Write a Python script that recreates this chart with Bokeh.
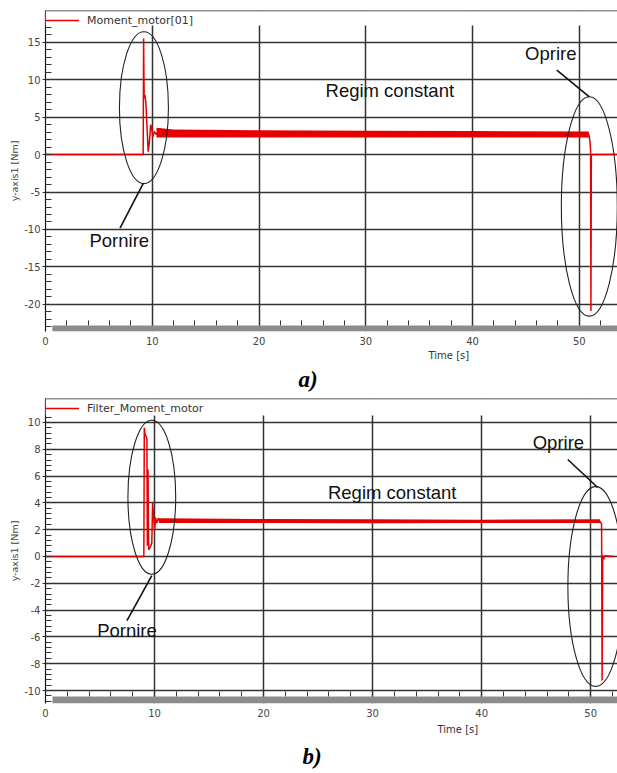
from bokeh.plotting import figure
from bokeh.models import (Range1d, LinearAxis, SingleIntervalTicker, BoxAnnotation, Span,
                          Legend, LegendItem, Title, Grid, CustomJSTickFormatter, Label)
from bokeh.layouts import column
from bokeh.embed import file_html
from bokeh.resources import INLINE

# ---------------- data: panel a) Moment_motor[01] ----------------
ta = [0.0, 9.15, 9.19, 9.24, 9.30, 9.40, 9.50, 9.62, 9.72, 9.85, 9.95, 10.05, 10.20, 10.35, 10.50,
      20.0, 30.0, 40.0, 50.90, 51.00, 51.06, 51.09, 51.13, 53.6]
ya = [0.0, 0.0, 15.5, 7.5, 8.0, 7.0, 4.0, 0.4, 1.5, 4.0, 3.5, 2.3, 3.1, 2.7, 2.9,
      2.75, 2.7, 2.7, 2.7, 1.8, 0.5, -20.9, 0.0, 0.0]
band_a_t = [10.4, 12.0, 20.0, 30.0, 40.0, 50.9]
band_a_hi = [3.6, 3.35, 3.25, 3.2, 3.15, 3.1]
band_a_lo = [2.3, 2.3, 2.3, 2.3, 2.3, 2.3]

# ---------------- data: panel b) Filter_Moment_motor ----------------
tb = [0.0, 9.02, 9.06, 9.12, 9.20, 9.30, 9.34, 9.40, 9.46, 9.60, 9.75, 9.82, 9.90, 10.0, 10.1,
      10.2, 10.35, 10.5, 10.7, 20.0, 30.0, 40.0, 50.85, 51.00, 51.05, 51.10, 51.20, 51.30, 52.15]
yb = [0.0, 0.0, 9.6, 9.2, 9.0, 8.8, 0.8, 6.5, 0.5, 0.7, 1.0, 4.0, 3.2, 2.0, 2.9,
      2.5, 2.85, 2.6, 2.75, 2.65, 2.6, 2.6, 2.65, 2.4, -9.25, 0.1, -0.2, 0.05, 0.0]
band_b_t = [10.4, 20.0, 30.0, 40.0, 50.85]
band_b_hi = [2.85, 2.8, 2.78, 2.75, 2.78]
band_b_lo = [2.5, 2.5, 2.48, 2.5, 2.5]

# annotations (ellipses: x, y, width, height in data units)
ell_a = dict(x=[9.22, 50.94], y=[6.27, -6.93], w=[4.59, 5.24], h=[20.3, 29.3])
ell_b = dict(x=[9.75, 50.46], y=[4.42, -2.24], w=[4.38, 5.10], h=[11.5, 14.93])
lead_a = dict(xs=[[9.16, 6.98], [47.9, 50.94]], ys=[[-3.85, -9.82], [11.28, 7.7]])
lead_b = dict(xs=[[9.75, 7.47], [47.9, 50.64]], ys=[[-1.42, -4.78], [7.24, 5.15]])
notes_text = ["Pornire", "Oprire", "Regim constant"]
notes_a = dict(x=[6.91, 47.33, 32.25], y=[-11.42, 13.47, 8.63])
notes_b = dict(x=[7.47, 47.04, 31.8], y=[-5.52, 8.51, 4.78])

RED = "#e60000"
GRID = "#333333"


def panel(t, y, bt, bhi, blo, label, xr, yr, interval, bar_top, mask_bottom,
          ell, lead, notes, time_off, time_gap, cap, cap_off, cap_gap,
          height, mb_top, mb_bottom, mb_left):
    p = figure(width=617, height=height, x_range=Range1d(*xr), y_range=Range1d(*yr),
               output_backend="svg", toolbar_location=None,
               x_axis_location=None, y_axis_location=None,
               min_border_left=mb_left, min_border_right=0,
               min_border_top=mb_top, min_border_bottom=mb_bottom)
    # drop any default grids
    p.center = [c for c in p.center if not isinstance(c, Grid)]
    p.outline_line_color = None
    p.background_fill_color = "white"
    p.border_fill_color = "white"

    xt = SingleIntervalTicker(interval=10, num_minor_ticks=5)
    yt = SingleIntervalTicker(interval=interval, num_minor_ticks=5)
    fmt = CustomJSTickFormatter(code="return String(tick);")

    p.add_layout(Grid(dimension=0, ticker=xt, grid_line_color=GRID, grid_line_width=1.5))
    p.add_layout(Grid(dimension=1, ticker=yt, grid_line_color=GRID, grid_line_width=1.5))

    yax = LinearAxis(ticker=yt, formatter=fmt, axis_label="y-axis1 [Nm]",
                     axis_line_color="#111111", axis_line_width=1.2,
                     major_tick_in=0, major_tick_out=3, major_tick_line_color="#333",
                     minor_tick_in=6, minor_tick_out=0, minor_tick_line_color="#333",
                     major_label_text_font="DejaVu Sans",
                     major_label_text_font_size="10px", major_label_text_color="#444444",
                     major_label_standoff=2,
                     axis_label_text_font="DejaVu Sans",
                     axis_label_text_font_size="9.5px", axis_label_text_font_style="normal",
                     axis_label_text_color="#444444", axis_label_standoff=1)
    p.add_layout(yax, "left")

    xax = LinearAxis(ticker=xt, formatter=fmt, axis_line_color=None,
                     major_tick_line_color=None,
                     minor_tick_line_color=None, major_tick_in=0, major_tick_out=0,
                     major_label_text_font="DejaVu Sans",
                     major_label_text_font_size="10px", major_label_text_color="#444444",
                     major_label_standoff=1)
    p.add_layout(xax, "below")

    xfix = LinearAxis(ticker=xt, fixed_location=bar_top, axis_line_color=None,
                      major_tick_in=5, major_tick_out=0, minor_tick_in=5, minor_tick_out=0,
                      major_tick_line_color="#333", minor_tick_line_color="#333",
                      major_label_text_alpha=0, major_label_text_font_size="1px")
    p.add_layout(xfix, "below")

    p.add_layout(Title(text="Time [s]", align="left", offset=time_off, standoff=time_gap,
                       text_font="DejaVu Sans", text_font_size="10px",
                       text_font_style="normal", text_color="#333333"), "below")
    p.add_layout(Title(text=cap, align="left", offset=cap_off, standoff=cap_gap,
                       text_font="Liberation Serif", text_font_size="23px",
                       text_font_style="bold italic", text_color="#000000"), "below")

    # data
    p.varea(x=bt, y1=blo, y2=bhi, fill_color=RED, fill_alpha=1)
    r = p.line(t, y, line_color=RED, line_width=1.5)

    # annotation shapes
    p.ellipse(x=ell["x"], y=ell["y"], width=ell["w"], height=ell["h"],
              fill_color=None, line_color="#222222", line_width=1.1)
    p.multi_line(xs=lead["xs"], ys=lead["ys"], line_color="#111111", line_width=1.6)
    for txt, nx, ny in zip(notes_text, notes["x"], notes["y"]):
        p.add_layout(Label(x=nx, y=ny, text=txt, text_font="Liberation Sans",
                           text_font_size="18.5px", text_color="#111111",
                           text_align="center", text_baseline="middle"))

    # decorations: top band mask, legend, top line, bottom bar
    p.add_layout(BoxAnnotation(bottom=mask_bottom, fill_color="white", fill_alpha=1,
                               line_color=None))
    leg = Legend(items=[LegendItem(label=label, renderers=[r])], location="top_left",
                 margin=0, padding=4, spacing=0, glyph_width=34, glyph_height=20,
                 label_height=20, label_standoff=8,
                 label_text_font="DejaVu Sans", label_text_font_size="11px",
                 label_text_color="#333333", background_fill_alpha=0,
                 border_line_color=None)
    p.add_layout(leg)
    p.add_layout(Span(location=yr[1], dimension="width", line_color="#222222",
                      line_width=1.5, level="overlay"))
    p.add_layout(BoxAnnotation(top=bar_top, left=0.64, fill_color="#8c8c8c", fill_alpha=1,
                               line_color=None))
    return p


pa = panel(ta, ya, band_a_t, band_a_hi, band_a_lo, "Moment_motor[01]",
           (0, 53.58), (-23.63, 19.25), 5, -22.83, 17.26,
           ell_a, lead_a, notes_a, 383, 0, "a)", 253, 8,
           395, 10, 62, 45)
pb = panel(tb, yb, band_b_t, band_b_hi, band_b_lo, "Filter_Moment_motor",
           (0, 52.46), (-10.97, 11.79), 2, -10.45, 10.52,
           ell_b, lead_b, notes_b, 392, 4, "b)", 257, 10,
           378, 3, 70, 41)

layout = column(pa, pb, spacing=0)
open("out.html", "w").write(file_html(layout, INLINE))
